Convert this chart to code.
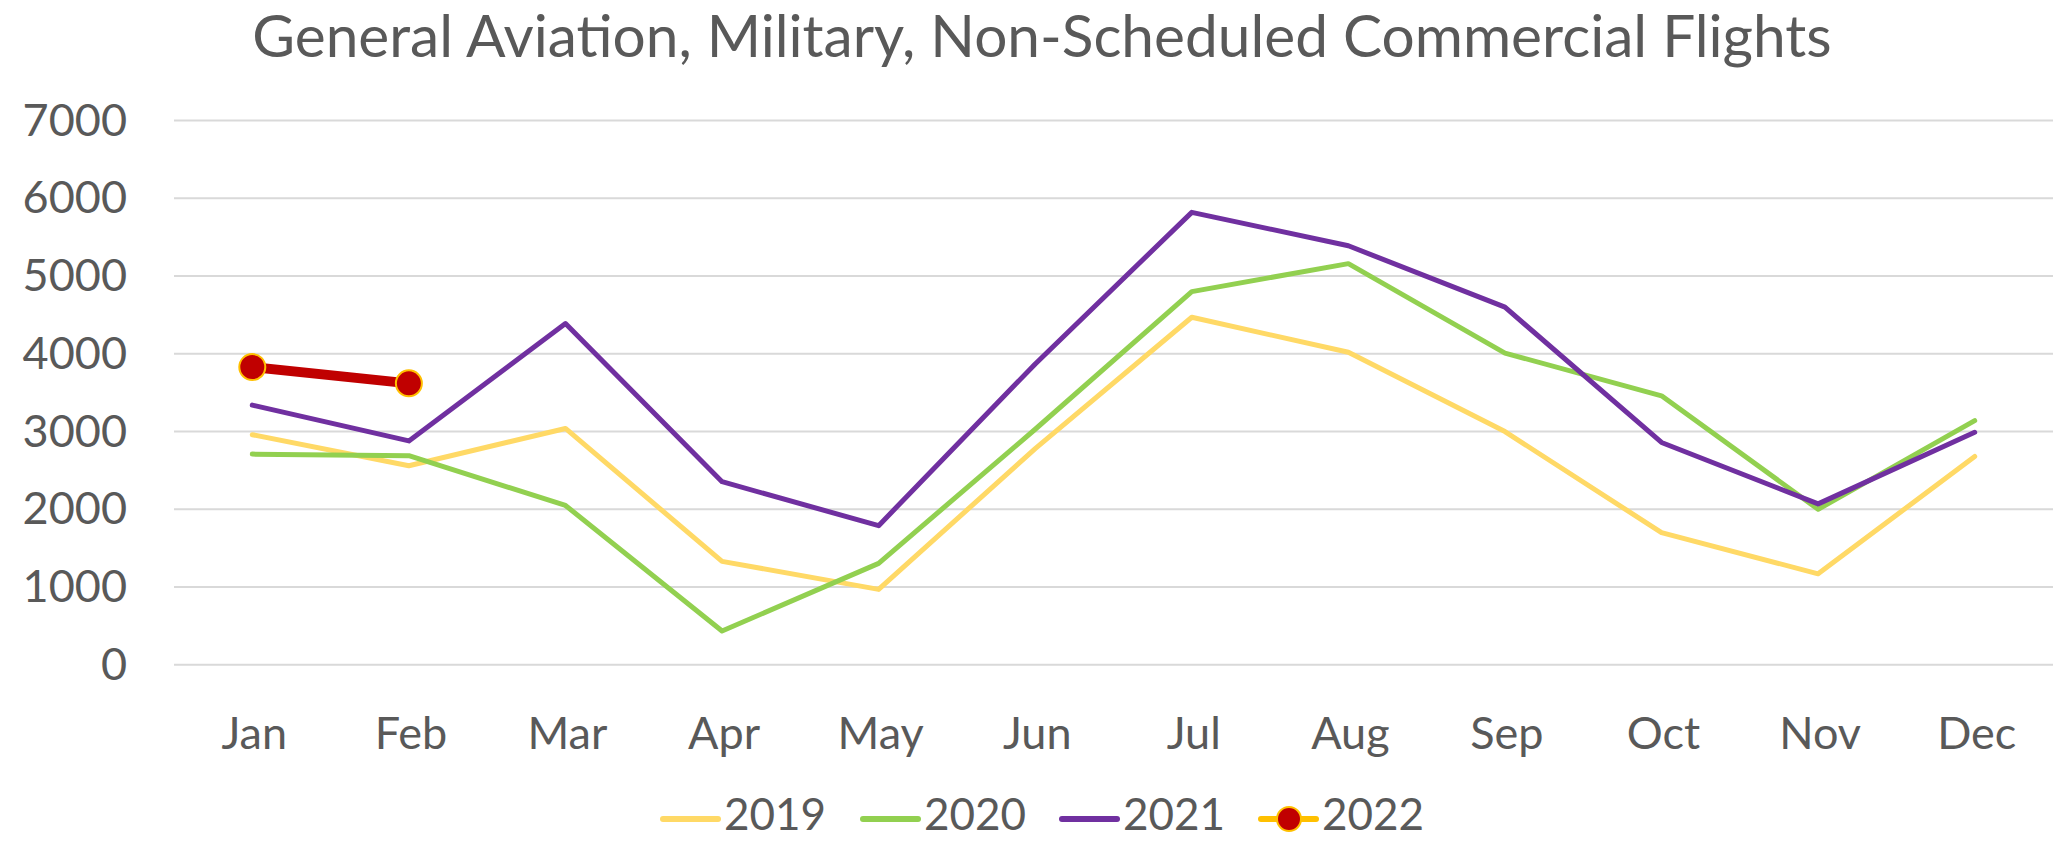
<!DOCTYPE html>
<html>
<head>
<meta charset="utf-8">
<script src="https://cdn.jsdelivr.net/npm/d3@7"></script>
<style>
  body { margin: 0; background: #fff; }
  text { font-family: Lato, "Open Sans", sans-serif; fill: #595959; }
</style>
</head>
<body>
<div class="chart-container"></div>
<script>
// Width and height
const w = 2056;
const h = 841;

// data
const months = ["Jan", "Feb", "Mar", "Apr", "May", "Jun", "Jul", "Aug", "Sep", "Oct", "Nov", "Dec"];
const years = ["2019", "2020", "2021", "2022"];
const flights2019 = [2960, 2560, 3040, 1330, 970, 2780, 4470, 4020, 3000, 1700, 1170, 2680];
const flights2020 = [2710, 2690, 2050, 435, 1305, 3030, 4800, 5160, 4010, 3460, 2000, 3140];
const flights2021 = [3340, 2880, 4390, 2355, 1790, 3870, 5820, 5390, 4600, 2860, 2070, 2990];
const flights2022 = [3830, 3620];
const yTicks = [0, 1000, 2000, 3000, 4000, 5000, 6000, 7000];
const title = "General Aviation, Military, Non-Scheduled Commercial Flights";

const series = [
  { name: years[0], values: flights2019, color: "#FFD966", width: 5 },
  { name: years[1], values: flights2020, color: "#92D050", width: 5 },
  { name: years[2], values: flights2021, color: "#7030A0", width: 5 },
  { name: years[3], values: flights2022, color: "#C00000", width: 10, marker: true, legendColor: "#FFC000" },
];

const margin = { left: 174, right: 3, top: 120.6, bottom: 176.2 };

const svg = d3
  .select(".chart-container")
  .append("svg")
  .attr("width", w)
  .attr("height", h);

// scales
const x = d3
  .scaleBand()
  .domain(months)
  .range([margin.left, w - margin.right]);

const y = d3
  .scaleLinear()
  .domain([0, 7000])
  .range([h - margin.bottom, margin.top]);

// title, sized to the same width as the original
const titleText = svg
  .append("text")
  .attr("x", 1042)
  .attr("y", 57)
  .attr("text-anchor", "middle")
  .style("font-size", "100px")
  .text(title);
const tw = titleText.node().getComputedTextLength();
titleText.style("font-size", (100 * 1580) / tw + "px");

// gridlines
svg
  .append("g")
  .selectAll("line")
  .data(yTicks)
  .enter()
  .append("line")
  .attr("x1", margin.left)
  .attr("x2", w - margin.right)
  .attr("y1", (d) => y(d))
  .attr("y2", (d) => y(d))
  .attr("stroke", "#D9D9D9")
  .attr("stroke-width", 2);

// y axis labels
svg
  .append("g")
  .selectAll("text")
  .data(yTicks)
  .enter()
  .append("text")
  .attr("x", 127)
  .attr("y", (d) => y(d) + 15)
  .attr("text-anchor", "end")
  .style("font-size", "45px")
  .text((d) => d);

// x axis labels
svg
  .append("g")
  .selectAll("text")
  .data(months)
  .enter()
  .append("text")
  .attr("x", (d) => x(d) + x.bandwidth() / 2 + 2)
  .attr("y", 749)
  .attr("text-anchor", "middle")
  .style("font-size", "45px")
  .text((d) => d);

// lines
const line = d3
  .line()
  .x((d, i) => x(months[i]) + x.bandwidth() / 2)
  .y((d) => y(d));

series.forEach((s) => {
  svg
    .append("path")
    .attr("d", line(s.values))
    .attr("fill", "none")
    .attr("stroke", s.color)
    .attr("stroke-width", s.width)
    .attr("stroke-linejoin", "round")
    .attr("stroke-linecap", "round");

  if (s.marker) {
    svg
      .append("g")
      .selectAll("circle")
      .data(s.values)
      .enter()
      .append("circle")
      .attr("cx", (d, i) => x(months[i]) + x.bandwidth() / 2)
      .attr("cy", (d) => y(d))
      .attr("r", 13)
      .attr("fill", "#C00000")
      .attr("stroke", "#FFC000")
      .attr("stroke-width", 2);
  }
});

// legend
const legendX = [663, 863, 1062, 1261];
const legend = svg
  .append("g")
  .selectAll("g")
  .data(series)
  .enter()
  .append("g")
  .attr("transform", (d, i) => `translate(${legendX[i]},819)`);

legend
  .append("line")
  .attr("x1", 0)
  .attr("x2", 55)
  .attr("stroke", (d) => d.legendColor || d.color)
  .attr("stroke-width", 6)
  .attr("stroke-linecap", "round");

legend
  .filter((d) => d.marker)
  .append("circle")
  .attr("cx", 28)
  .attr("cy", 0)
  .attr("r", 12)
  .attr("fill", "#C00000")
  .attr("stroke", "#FFC000")
  .attr("stroke-width", 2);

legend
  .append("text")
  .attr("x", 61)
  .attr("y", 11)
  .style("font-size", "44px")
  .text((d) => d.name);
</script>
</body>
</html>
